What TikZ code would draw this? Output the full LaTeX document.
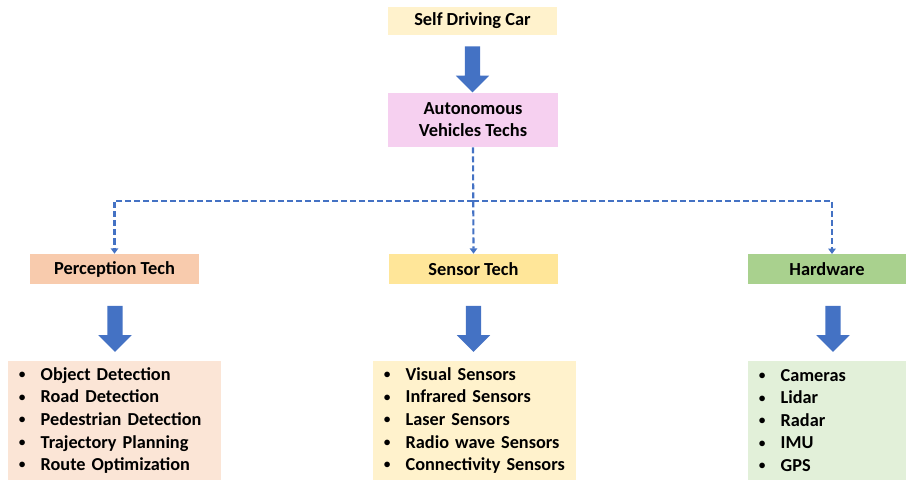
\documentclass[tikz,border=0pt]{standalone}
\usepackage{fontspec}
\setmainfont{Carlito}
\usetikzlibrary{shapes.arrows,arrows.meta}
\definecolor{arrowblue}{HTML}{4472C4}
\definecolor{topfill}{HTML}{FFF2CC}
\definecolor{avfill}{HTML}{F6D0F0}
\definecolor{percfill}{HTML}{F8CBAD}
\definecolor{sensfill}{HTML}{FFE699}
\definecolor{hwfill}{HTML}{A9D18E}
\definecolor{perclist}{HTML}{FBE5D6}
\definecolor{senslist}{HTML}{FFF2CC}
\definecolor{hwlist}{HTML}{E2F0D9}
\newcommand{\itm}[1]{\makebox[16.5pt][l]{\raisebox{0.2ex}{\scalebox{0.75}{$\bullet$}}}#1}
\tikzset{
  box/.style={rectangle, inner sep=0pt, align=center, font=\fontsize{13.8pt}{16.5pt}\selectfont\bfseries},
  listbox/.style={rectangle, inner xsep=8pt, inner ysep=0pt, align=left,
    font=\fontsize{13.7pt}{16.9pt}\selectfont\bfseries},
  blockarrow/.style={single arrow, fill=arrowblue, draw=none, rotate=-90,
    inner xsep=0pt, inner ysep=5.6pt, minimum height=34.5pt,
    single arrow head extend=6.75pt, single arrow head indent=0pt},
  dashlink/.style={draw=arrowblue, line width=1.6pt, dash pattern=on 4.5pt off 2.25pt,
    -{Triangle[width=5.5pt,length=4pt]}}
}
\begin{document}
\begin{tikzpicture}[x=0.75pt,y=-0.75pt]
\useasboundingbox (0,0) rectangle (907,481);
% top of the hierarchy
\node[box, fill=topfill, minimum width=126.75pt, minimum height=21pt] (car) at (472.5,21) {Self Driving Car};
\node[blockarrow] (a0) at (472.5,65.5) {};
\node[box, fill=avfill, minimum width=127.5pt, minimum height=40.5pt] (av) at (473,120) {Autonomous\\Vehicles Techs};
% technology groups
\node[box, fill=percfill, minimum width=126.75pt, minimum height=22.5pt] (perc) at (114.5,269) {Perception Tech};
\node[box, fill=sensfill, minimum width=126.75pt, minimum height=22.5pt] (sens) at (473.5,269) {Sensor Tech};
\node[box, fill=hwfill, minimum width=118.5pt, minimum height=22.5pt] (hw) at (827,269) {Hardware};
% dashed links from the central node
\coordinate (split) at (473,201);
\coordinate (hwdrop) at (832,254);
\draw[dashlink] (av.south) -- (sens.north);
\draw[dashlink] (split) -| (perc.north);
\draw[dashlink] (split) -| (hwdrop);
% block arrows to the lists
\node[blockarrow] (a1) at (115,325) {};
\node[blockarrow] (a2) at (473.5,325) {};
\node[blockarrow] (a3) at (833,325) {};
% item lists
\node[listbox, fill=perclist, minimum width=159.75pt, minimum height=89.25pt, text width=143.75pt] (plist) at (114.5,420.5)
  {\itm{Object Detection}\\\itm{Road Detection}\\\itm{Pedestrian Detection}\\\itm{Trajectory Planning}\\\itm{Route Optimization}};
\node[listbox, fill=senslist, minimum width=152.25pt, minimum height=89.25pt, text width=136.25pt] (slist) at (474.5,420.5)
  {\itm{Visual Sensors}\\\itm{Infrared Sensors}\\\itm{Laser Sensors}\\\itm{Radio wave Sensors}\\\itm{Connectivity Sensors}};
\node[listbox, fill=hwlist, minimum width=118.5pt, minimum height=89.25pt, text width=102.5pt] (hlist) at (827,420.5)
  {\itm{Cameras}\\\itm{Lidar}\\\itm{Radar}\\\itm{IMU}\\\itm{GPS}};
\end{tikzpicture}
\end{document}
